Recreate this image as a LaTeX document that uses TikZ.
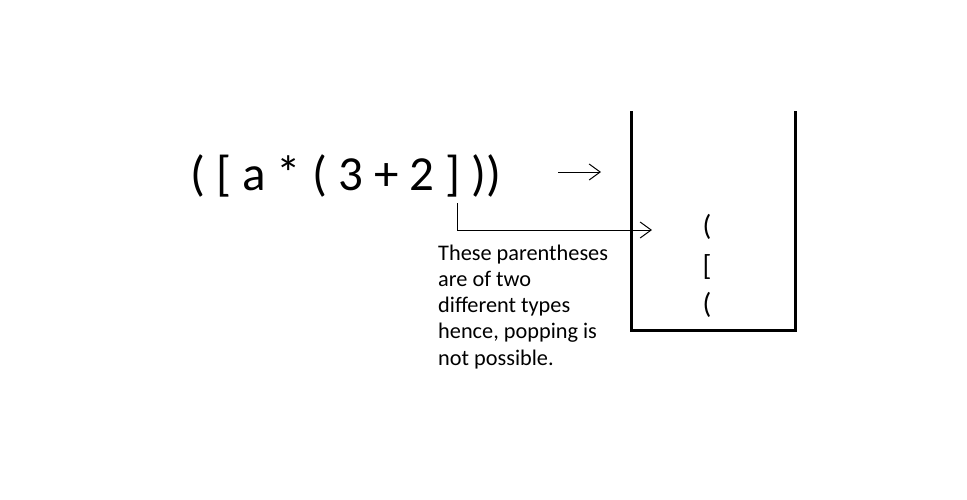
\documentclass[tikz,border=0pt]{standalone}
\usepackage{fontspec}
\setmainfont{Carlito}
\usetikzlibrary{arrows.meta}
\tikzset{
  thinline/.style={line width=1pt, black},
  barb/.style={-{Straight Barb[length=11pt, width=16pt, line width=1pt]}},
  stackwall/.style={line width=3pt, black, line cap=rect},
  exprtext/.style={font=\fontsize{49}{60}\selectfont, inner sep=0pt, anchor=base west},
  note/.style={font=\fontsize{22.3}{26.2}\selectfont, inner sep=0pt, anchor=base west, align=left},
  item/.style={font=\fontsize{29}{30}\selectfont, inner sep=0pt, anchor=base}
}
\begin{document}
\begin{tikzpicture}[x=1pt, y=-1pt]
\useasboundingbox[fill=white] (0,0) rectangle (967,499);
% expression
\node[exprtext] (expr) at (190,190) {( [ a * ( 3 + 2 ] ))};
% arrow 1
\coordinate (a1s) at (558,172);
\coordinate (a1e) at (601,172);
\draw[thinline, barb] (a1s) -- (a1e);
% arrow 2
\coordinate (a2s) at (457,203);
\coordinate (a2e) at (652,230);
\draw[thinline, barb] (a2s) |- (a2e);
% note (anchor at baseline of last line)
\node[note] (note) at (438,365) {These parentheses\\are of two\\different types\\hence, popping is\\not possible.};
% stack
\coordinate (stl) at (631,112);
\coordinate (sbl) at (631,330);
\coordinate (sbr) at (795,330);
\coordinate (str) at (795,112);
\draw[stackwall] (stl) -- (sbl) -- (sbr) -- (str);
% stack items
\node[item] (s1) at (707,235) {(};
\node[item] (s2) at (707,275) {[};
\node[item] (s3) at (707,313) {(};
\end{tikzpicture}
\end{document}
